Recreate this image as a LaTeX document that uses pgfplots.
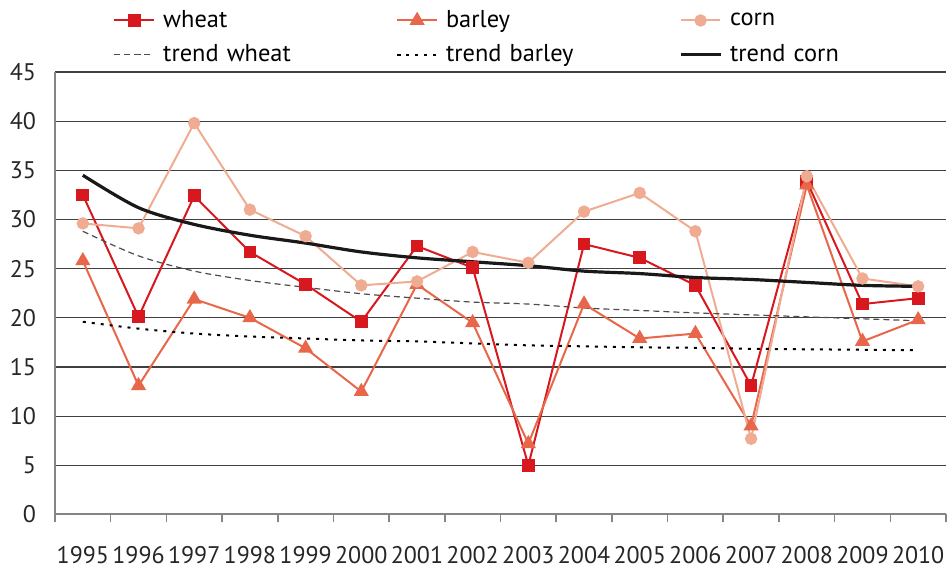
\documentclass[border=0pt]{standalone}
\usepackage{pgfplots}
\pgfplotsset{compat=1.18}
\usepackage{fontspec}
\setmainfont{PT Sans}
\definecolor{wheatc}{HTML}{D7191F}
\definecolor{barleyc}{HTML}{E8674A}
\definecolor{cornc}{HTML}{F0AC92}
\definecolor{gridc}{HTML}{404040}
\definecolor{axisc}{HTML}{858585}
\begin{document}
\begin{tikzpicture}
\begin{axis}[
  scale only axis,
  width=445.5pt, height=221.25pt,
  xmin=0.5, xmax=16.5, ymin=0, ymax=45,
  axis x line=bottom, axis y line=left,
  axis line style={-, draw=axisc, line width=1pt},
  xtick={1,...,16},
  xticklabels={1995,1996,1997,1998,1999,2000,2001,2002,2003,2004,2005,2006,2007,2008,2009,2010},
  minor xtick={0.5,1.5,...,16.5},
  tick align=outside,
  major tick length=0pt,
  minor tick length=4pt,
  minor tick style={draw=axisc, line width=0.8pt},
  ytick={0,5,...,45},
  ymajorgrids,
  major grid style={draw=gridc, line width=0.6pt},
  /pgf/number format/assume math mode=true,
  tick label style={font=\fontsize{12}{14}\selectfont, text=black!85},
  xticklabel style={yshift=-12.5pt},
  yticklabel style={xshift=-6pt},
  clip=false,
  legend columns=3,
  legend cell align=left,
  legend style={draw=none, fill=none, at={(0,1)}, anchor=south west,
    xshift=26pt, yshift=-0.5pt,
    font=\fontsize{12.2}{14}\selectfont,
    row sep=3pt,
    /tikz/every odd column/.append style={column sep=2pt},
    nodes={text width=114.5pt, inner sep=2pt}},
  legend image code/.code={\draw[mark repeat=2,mark phase=2,#1] plot coordinates {(0cm,0cm) (0.35cm,0cm) (0.7cm,0cm)};},
]
\addplot[wheatc, line width=1pt, mark=square*, mark size=2.7pt, mark options={solid}] coordinates {
(1,32.5)(2,20.1)(3,32.4)(4,26.7)(5,23.4)(6,19.6)(7,27.3)(8,25.1)(9,5.0)(10,27.5)(11,26.1)(12,23.3)(13,13.1)(14,33.9)(15,21.4)(16,22.0)};
\addlegendentry{wheat}
\addplot[barleyc, line width=1pt, mark=triangle*, mark size=3.4pt, mark options={solid}] coordinates {
(1,25.8)(2,13.1)(3,21.9)(4,20.0)(5,16.9)(6,12.5)(7,23.4)(8,19.5)(9,7.2)(10,21.4)(11,17.9)(12,18.4)(13,9.0)(14,33.5)(15,17.6)(16,19.8)};
\addlegendentry{barley}
\addplot[cornc, line width=1pt, mark=*, mark size=2.6pt, mark options={solid}] coordinates {
(1,29.6)(2,29.1)(3,39.8)(4,31.0)(5,28.3)(6,23.3)(7,23.7)(8,26.7)(9,25.6)(10,30.8)(11,32.7)(12,28.8)(13,7.7)(14,34.4)(15,24.0)(16,23.2)};
\addlegendentry{corn}
\addplot[black!70, line width=0.6pt, dash pattern=on 3pt off 2pt, smooth] coordinates {
(1,28.8)(2,26.3)(3,24.75)(4,23.8)(5,23.1)(6,22.45)(7,22.0)(8,21.6)(9,21.4)(10,21.0)(11,20.75)(12,20.5)(13,20.3)(14,20.1)(15,19.9)(16,19.7)};
\addlegendentry{trend wheat}
\addplot[black, line width=1pt, dash pattern=on 1.5pt off 3pt, smooth] coordinates {
(1,19.6)(2,18.9)(3,18.4)(4,18.1)(5,17.9)(6,17.7)(7,17.6)(8,17.4)(9,17.2)(10,17.1)(11,17.0)(12,16.95)(13,16.85)(14,16.8)(15,16.75)(16,16.7)};
\addlegendentry{trend barley}
\addplot[black!90, line width=1.6pt, smooth] coordinates {
(1,34.5)(2,31.2)(3,29.5)(4,28.4)(5,27.6)(6,26.7)(7,26.1)(8,25.7)(9,25.3)(10,24.75)(11,24.5)(12,24.1)(13,23.9)(14,23.6)(15,23.3)(16,23.2)};
\addlegendentry{trend corn}
\end{axis}
\pgfresetboundingbox
\path ([shift={(-27.5pt,-27.5pt)}]current axis.south west) rectangle ([shift={(1pt,36pt)}]current axis.north east);
\end{tikzpicture}
\end{document}
